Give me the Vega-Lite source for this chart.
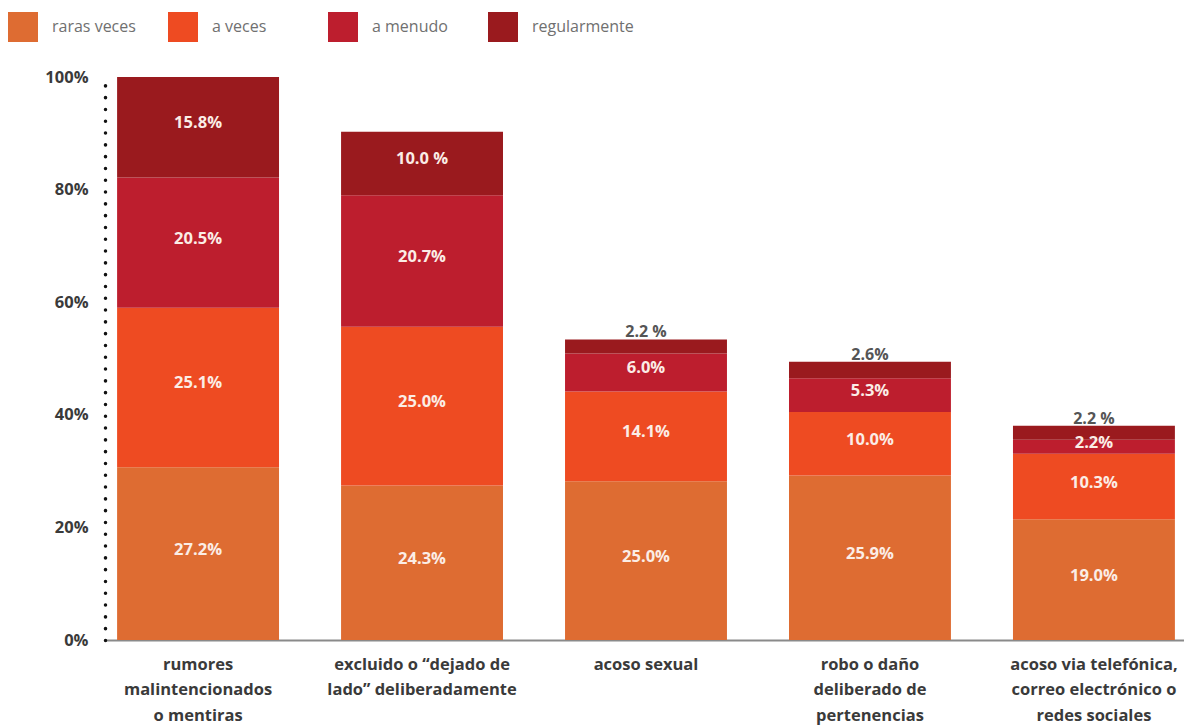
{
  "$schema": "https://vega.github.io/schema/vega-lite/v6.json",
  "autosize": {"type": "none"},
  "padding": {"left": 105, "top": 77, "right": 0, "bottom": 87},
  "width": 1082,
  "height": 563,
  "background": "white",
  "config": {
    "font": "Open Sans",
    "view": {"stroke": null}
  },
  "data": {
    "values": [
      {"item": "rumores|malintencionados|o mentiras", "cat": "raras veces", "order": 1, "value": 27.2, "label": "27.2%"},
      {"item": "rumores|malintencionados|o mentiras", "cat": "a veces", "order": 2, "value": 25.1, "label": "25.1%"},
      {"item": "rumores|malintencionados|o mentiras", "cat": "a menudo", "order": 3, "value": 20.5, "label": "20.5%"},
      {"item": "rumores|malintencionados|o mentiras", "cat": "regularmente", "order": 4, "value": 15.8, "label": "15.8%"},
      {"item": "excluido o \u201cdejado de|lado\u201d deliberadamente", "cat": "raras veces", "order": 1, "value": 24.3, "label": "24.3%"},
      {"item": "excluido o \u201cdejado de|lado\u201d deliberadamente", "cat": "a veces", "order": 2, "value": 25.0, "label": "25.0%"},
      {"item": "excluido o \u201cdejado de|lado\u201d deliberadamente", "cat": "a menudo", "order": 3, "value": 20.7, "label": "20.7%"},
      {"item": "excluido o \u201cdejado de|lado\u201d deliberadamente", "cat": "regularmente", "order": 4, "value": 10.0, "label": "10.0 %"},
      {"item": "acoso sexual", "cat": "raras veces", "order": 1, "value": 25.0, "label": "25.0%"},
      {"item": "acoso sexual", "cat": "a veces", "order": 2, "value": 14.1, "label": "14.1%"},
      {"item": "acoso sexual", "cat": "a menudo", "order": 3, "value": 6.0, "label": "6.0%"},
      {"item": "acoso sexual", "cat": "regularmente", "order": 4, "value": 2.2, "label": "2.2 %"},
      {"item": "robo o daño|deliberado de|pertenencias", "cat": "raras veces", "order": 1, "value": 25.9, "label": "25.9%"},
      {"item": "robo o daño|deliberado de|pertenencias", "cat": "a veces", "order": 2, "value": 10.0, "label": "10.0%"},
      {"item": "robo o daño|deliberado de|pertenencias", "cat": "a menudo", "order": 3, "value": 5.3, "label": "5.3%"},
      {"item": "robo o daño|deliberado de|pertenencias", "cat": "regularmente", "order": 4, "value": 2.6, "label": "2.6%"},
      {"item": "acoso via telefónica,|correo electrónico o|redes sociales", "cat": "raras veces", "order": 1, "value": 19.0, "label": "19.0%"},
      {"item": "acoso via telefónica,|correo electrónico o|redes sociales", "cat": "a veces", "order": 2, "value": 10.3, "label": "10.3%"},
      {"item": "acoso via telefónica,|correo electrónico o|redes sociales", "cat": "a menudo", "order": 3, "value": 2.2, "label": "2.2%"},
      {"item": "acoso via telefónica,|correo electrónico o|redes sociales", "cat": "regularmente", "order": 4, "value": 2.2, "label": "2.2 %"}
    ]
  },
  "transform": [
    {"stack": "value", "groupby": ["item"], "sort": [{"field": "order", "order": "ascending"}], "as": ["y0", "y1"]},
    {"calculate": "(datum.y0 + datum.y1) / 2", "as": "ymid"}
  ],
  "encoding": {
    "x": {
      "field": "item",
      "type": "nominal",
      "sort": null,
      "scale": {"paddingInner": 0.277, "paddingOuter": 0.054},
      "axis": {
        "title": null,
        "labelAngle": 0,
        "labelExpr": "split(datum.label, '|')",
        "labelLimit": 0,
        "labelLineHeight": 25.5,
        "labelFontSize": 16.5,
        "labelFontWeight": "bold",
        "labelColor": "#3a3a3a",
        "labelPadding": 16,
        "ticks": false,
        "domainColor": "#8a8a8a",
        "domainWidth": 2
      }
    }
  },
  "layer": [
    {
      "mark": {"type": "bar"},
      "encoding": {
        "y": {
          "field": "y0",
          "type": "quantitative",
          "scale": {"domain": [0, 88.6], "nice": false},
          "axis": {
            "title": null,
            "values": [0, 17.72, 35.44, 53.16, 70.88, 88.6],
            "labelExpr": "format(datum.value / 0.886, '.0f') + '%'",
            "labelFontSize": 16.5,
            "labelFontWeight": "bold",
            "labelColor": "#3a3a3a",
            "labelPadding": 17,
            "ticks": false,
            "grid": false,
            "domainColor": "#111111",
            "domainWidth": 3.5,
            "domainDash": [0.1, 11.7],
            "domainCap": "round"
          }
        },
        "y2": {"field": "y1"},
        "color": {
          "field": "cat",
          "type": "nominal",
          "scale": {
            "domain": ["raras veces", "a veces", "a menudo", "regularmente"],
            "range": ["#DE6C32", "#EE4B22", "#BD1E2E", "#9A1A1E"]
          },
          "legend": {
            "title": null,
            "orient": "none",
            "direction": "horizontal",
            "legendX": -97,
            "legendY": -65,
            "symbolType": "square",
            "symbolSize": 900,
            "symbolStrokeWidth": 0,
            "symbolOpacity": 1,
            "labelFont": "Open Sans",
            "labelFontSize": 16,
            "labelColor": "#707070",
            "labelOffset": 14,
            "gridAlign": "all",
            "columnPadding": 14
          }
        }
      }
    },
    {
      "transform": [{"filter": "!(datum.cat == 'regularmente' && datum.value < 3)"}],
      "mark": {"type": "text", "fontWeight": "bold", "fontSize": 16.5, "color": "#FBEDE6", "baseline": "middle", "dy": -4},
      "encoding": {
        "y": {"field": "ymid", "type": "quantitative"},
        "text": {"field": "label"}
      }
    },
    {
      "transform": [{"filter": "datum.cat == 'regularmente' && datum.value < 3"}],
      "mark": {"type": "text", "fontWeight": "bold", "fontSize": 16, "color": "#555555", "baseline": "bottom", "dy": 1},
      "encoding": {
        "y": {"field": "y1", "type": "quantitative"},
        "text": {"field": "label"}
      }
    }
  ]
}
